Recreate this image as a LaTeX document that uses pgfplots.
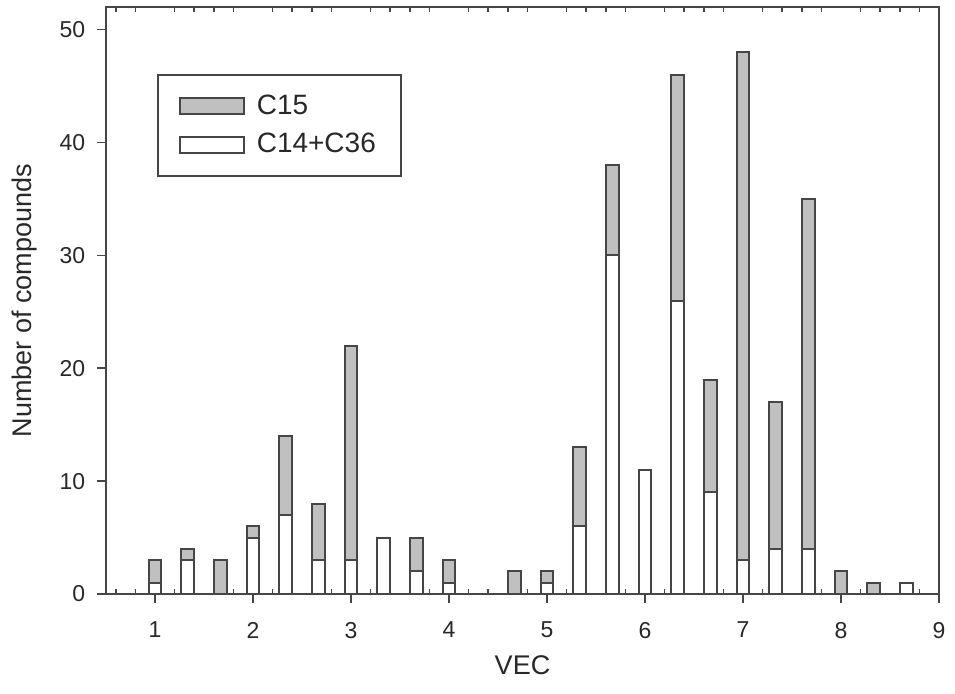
\documentclass[border=0pt]{standalone}
\usepackage{fontspec}
\setmainfont{Liberation Sans}
\usepackage{pgfplots}
\pgfplotsset{compat=1.18}
\usetikzlibrary{calc}
\definecolor{edge}{RGB}{70,70,70}
\definecolor{fillgray}{RGB}{192,192,192}
\definecolor{txt}{RGB}{40,40,40}
\begin{document}
\begin{tikzpicture}
\pgfplotsset{common/.style={width=416.5pt,height=293.5pt,scale only axis,xmin=0.5,xmax=9,ymin=0,ymax=52}}
% minor ticks (inside, top and bottom)
\begin{axis}[common,
  axis line style={draw=none},
  ytick=\empty,
  xtick={0.6,0.8,1.2,1.4,1.6,1.8,2.2,2.4,2.6,2.8,3.2,3.4,3.6,3.8,4.2,4.4,4.6,4.8,5.2,5.4,5.6,5.8,6.2,6.4,6.6,6.8,7.2,7.4,7.6,7.8,8.2,8.4,8.6,8.8},
  xticklabels={},
  tick align=inside,
  major tick length=2.5pt,
  tick style={draw=edge,line width=0.8pt}]
\end{axis}
\begin{axis}[common, name=ax,
  ybar stacked, bar width=0.13,
  xtick={1,2,3,4,5,6,7,8,9},
  ytick={0,10,20,30,40,50},
  minor tick num=0,
  tick align=outside,
  xtick pos=bottom, ytick pos=left,
  major tick length=4.5pt,
  axis line style={draw=edge,line width=1pt},
  tick style={draw=edge,line width=0.8pt},
  /pgf/number format/assume math mode=true,
  tick label style={font=\fontsize{11.5}{13}\selectfont, text=txt},
  xticklabel style={yshift=-6pt},
  yticklabel style={xshift=-2.4pt},
  label style={font=\fontsize{13.5}{16}\selectfont, text=txt},
  xlabel={VEC},
  ylabel={Number of compounds},
  xlabel style={at={(axis description cs:0.5,-0.121)}, anchor=center},
  ylabel style={at={(axis description cs:-0.098,0.5)}, anchor=center, rotate=0},
  legend image code/.code={\draw[#1] (0pt,-4pt) rectangle (32pt,4pt);},
  reverse legend,
  legend cell align=left,
  legend style={at={(0.0612,0.886)}, anchor=north west, draw=edge, line width=0.8pt,
    font=\fontsize{14}{16}\selectfont, text=txt,
    inner xsep=10.5pt, inner ysep=8pt, row sep=4pt,
    /tikz/every odd column/.append style={column sep=4pt}},
]
\addplot[fill=white, draw=edge, line width=1pt] coordinates {
(1,1) (1.3333,3) (1.6667,0) (2,5) (2.3333,7) (2.6667,3) (3,3) (3.3333,5) (3.6667,2) (4,1)
(4.6667,0) (5,1) (5.3333,6) (5.6667,30) (6,11) (6.3333,26) (6.6667,9) (7,3) (7.3333,4) (7.6667,4)
(8,0) (8.3333,0) (8.6667,1)};
\addlegendentry{C14+C36}
\addplot[fill=fillgray, draw=edge, line width=1pt] coordinates {
(1,2) (1.3333,1) (1.6667,3) (2,1) (2.3333,7) (2.6667,5) (3,19) (3.3333,0) (3.6667,3) (4,2)
(4.6667,2) (5,1) (5.3333,7) (5.6667,8) (6,0) (6.3333,20) (6.6667,10) (7,45) (7.3333,13) (7.6667,31)
(8,2) (8.3333,1) (8.6667,0)};
\addlegendentry{C15}
\end{axis}
\pgfresetboundingbox
\path[use as bounding box] ($(ax.south west)+(-53pt,-49.5pt)$) rectangle ($(ax.north east)+(8pt,3.5pt)$);
\end{tikzpicture}
\end{document}
